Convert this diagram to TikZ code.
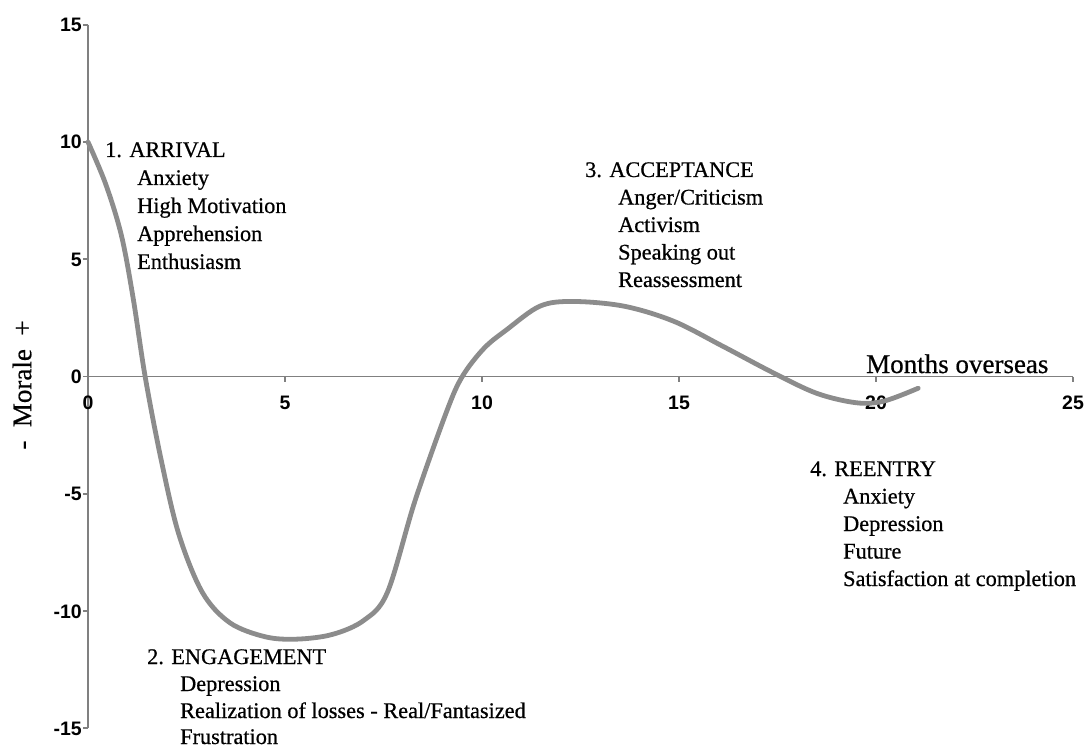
\documentclass[tikz,border=0pt]{standalone}
\usepackage{fontspec}
\setmainfont{Liberation Serif}
\newfontfamily\lblfont[FakeBold=0.6]{Liberation Serif}
\newfontfamily\tickfont{Liberation Sans}
\definecolor{axisgray}{RGB}{128,128,128}
\definecolor{curvegray}{RGB}{140,140,140}
\tikzset{
  lbl/.style={anchor=base west, inner sep=0pt, font=\lblfont\fontsize{22.3}{26}\selectfont},
  ticklbl/.style={inner sep=0pt, font=\tickfont\bfseries\fontsize{19.5}{23}\selectfont},
  axtitle/.style={inner sep=0pt, font=\lblfont\fontsize{27}{31}\selectfont},
  axisline/.style={draw=axisgray, line width=1.6pt},
  curveline/.style={draw=curvegray, line width=4.8pt, line cap=round, line join=round}
}
\begin{document}
\begin{tikzpicture}[x=1pt,y=-1pt]
\useasboundingbox (0,0) rectangle (1088,749);
% axes
\coordinate (ytop) at (88,24.75);
\coordinate (ybot) at (88,728.25);
\coordinate (xl) at (88,376.5);
\coordinate (xr) at (1073,376.5);
\draw[axisline] (ytop) -- (ybot);
\draw[axisline] (xl) -- (xr);
% y ticks
\foreach \v [count=\i] in {15,10,5,0,-5,-10,-15} {
  \pgfmathsetmacro{\py}{376.5-23.45*\v}
  \draw[axisline] (83,\py) -- (88,\py);
  \node[ticklbl, anchor=base east] (yl\i) at (82,\py+7) {\v};
}
% x ticks
\foreach \v [count=\i] in {0,5,10,15,20,25} {
  \pgfmathsetmacro{\px}{88+39.4*\v}
  \draw[axisline] (\px,376.5) -- (\px,382);
  \node[ticklbl, anchor=base] (xlab\i) at (\px,409) {\v};
}
% axis titles
\node[axtitle, anchor=base west] (months) at (866,373) {Months overseas};
\node[axtitle, rotate=90] (morale) at (22,385) {-\ \ Morale\ \ +};
% curve
\begin{scope}[shift={(88pt,-376.5pt)}, x=39.4pt, y=23.45pt]
\draw[curveline] plot[smooth, tension=0.55] coordinates {
 (0,10) (0.45,8.2) (0.85,6.0) (1.15,3.3) (1.45,0) (1.85,-3.5) (2.3,-6.7)
 (2.9,-9.2) (3.6,-10.5) (4.5,-11.1) (5.3,-11.2) (6.2,-11.0) (7.0,-10.4)
 (7.6,-9.2) (8.3,-5.3) (9.1,-1.5) (9.5,0) (10.05,1.2) (10.63,2.0)
 (11.47,3.0) (12.3,3.2) (13.6,3.0) (14.86,2.36) (16.1,1.3) (17.4,0.15)
 (18.5,-0.72) (19.5,-1.12) (20.2,-1.05) (21.07,-0.5)};
\end{scope}
% 1. Arrival
\node[lbl] (a0) at (105,157) {1. ARRIVAL};
\node[lbl] (a1) at (137,185) {Anxiety};
\node[lbl] (a2) at (137,213) {High Motivation};
\node[lbl] (a3) at (137,241) {Apprehension};
\node[lbl] (a4) at (137,269) {Enthusiasm};
% 2. Engagement
\node[lbl] (e0) at (147,664) {2. ENGAGEMENT};
\node[lbl] (e1) at (180,691) {Depression};
\node[lbl] (e2) at (180,718) {Realization of losses - Real/Fantasized};
\node[lbl] (e3) at (180,744) {Frustration};
% 3. Acceptance
\node[lbl] (c0) at (585,177) {3. ACCEPTANCE};
\node[lbl] (c1) at (618,204.5) {Anger/Criticism};
\node[lbl] (c2) at (618,232) {Activism};
\node[lbl] (c3) at (618,259.5) {Speaking out};
\node[lbl] (c4) at (618,287) {Reassessment};
% 4. Reentry
\node[lbl] (r0) at (810,476) {4. REENTRY};
\node[lbl] (r1) at (843,503.5) {Anxiety};
\node[lbl] (r2) at (843,531) {Depression};
\node[lbl] (r3) at (843,558.5) {Future};
\node[lbl] (r4) at (843,586) {Satisfaction at completion};
\end{tikzpicture}
\end{document}
